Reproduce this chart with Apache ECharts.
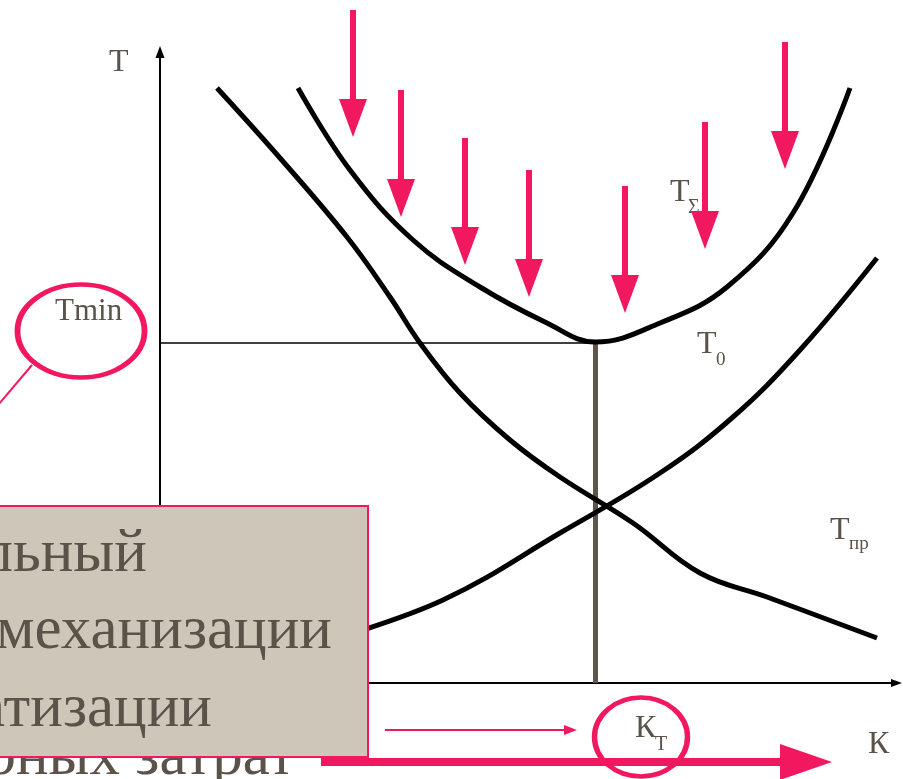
<!DOCTYPE html>
<html>
<head>
<meta charset="utf-8">
<script src="https://cdn.jsdelivr.net/npm/echarts@6/dist/echarts.min.js"></script>
<style>
  html, body { margin: 0; padding: 0; background: #fff; }
  #main { width: 903px; height: 779px; }
</style>
</head>
<body>
<div id="main"></div>
<script>
// координаты в единицах осей (K вправо, T вверх), начало — пересечение осей
const curveSum = [[138, 595], [190, 513], [253, 443], [320, 396], [387, 360], [435, 341],
  [500, 360], [567, 396], [633, 470], [690, 595]]
const curveDown = [[57, 595], [120, 525], [187, 446], [230, 386], [260, 340], [300, 290],
  [350, 243], [400, 206], [473, 160], [540, 110], [607, 86], [717, 45]]
const curveUp = [[170, 43], [283, 83], [400, 150], [500, 210], [573, 266], [640, 333], [717, 425]]

const tMin = 340
const kOpt = 435

// розовые стрелки вниз
const arrowX = [193, 241, 305, 369, 465, 545, 625]
const arrowTop = [673, 593, 545, 513, 497, 561, 641]
const arrowTip = [546, 466, 418, 386, 370, 434, 514]

const PINK = '#f2185f'
const INK = '#5b5249'
const FONT = '"Liberation Serif", "Times New Roman", serif'

const chart = echarts.init(document.getElementById('main'))

// стрелка: линия до центра наконечника, наконечник — треугольник
function arrow(from, tip, len) {
  const dx = tip[0] - from[0], dy = tip[1] - from[1]
  const d = Math.sqrt(dx * dx + dy * dy)
  return { coords: [from, [tip[0] - dx / d * len / 2, tip[1] - dy / d * len / 2]] }
}

const downArrows = arrowX.map((x, i) => arrow([x, arrowTop[i]], [x, arrowTip[i]], 38))

function curve(data) {
  return {
    type: 'line',
    data: data,
    smooth: 0.4,
    symbol: 'none',
    lineStyle: { color: '#000', width: 5 },
    z: 2,
  }
}

chart.setOption({
  animation: false,
  grid: { left: 0, right: 0, top: 0, bottom: 0 },
  xAxis: { type: 'value', min: -160, max: 743, show: false },
  yAxis: { type: 'value', min: -96, max: 683, show: false },
  series: [
    // оси
    {
      type: 'lines',
      coordinateSystem: 'cartesian2d',
      symbol: ['none', 'triangle'],
      symbolSize: [1, [9, 12]],
      lineStyle: { color: '#000', width: 2, opacity: 1 },
      data: [arrow([0, 0], [0, 637], 12)],
      z: 1,
    },
    {
      type: 'lines',
      coordinateSystem: 'cartesian2d',
      symbol: ['none', 'triangle'],
      symbolSize: [1, [8, 11]],
      lineStyle: { color: '#000', width: 2, opacity: 1 },
      data: [arrow([0, 0], [742, 0], 11)],
      z: 1,
    },
    // Tmin
    {
      type: 'lines',
      coordinateSystem: 'cartesian2d',
      lineStyle: { color: '#000', width: 1.5, opacity: 1 },
      data: [{ coords: [[0, tMin], [kOpt, tMin]] }],
      z: 1,
    },
    {
      type: 'lines',
      coordinateSystem: 'cartesian2d',
      lineStyle: { color: '#5e564d', width: 5, opacity: 1 },
      data: [{ coords: [[kOpt, 0], [kOpt, tMin]] }],
      z: 2,
    },
    curve(curveSum),
    curve(curveDown),
    curve(curveUp),
    {
      type: 'lines',
      coordinateSystem: 'cartesian2d',
      symbol: ['none', 'triangle'],
      symbolSize: [1, [28, 38]],
      lineStyle: { color: PINK, width: 6, opacity: 1 },
      data: downArrows,
      z: 4,
    },
    {
      type: 'lines',
      coordinateSystem: 'cartesian2d',
      symbol: ['none', 'triangle'],
      symbolSize: [1, [36, 52]],
      lineStyle: { color: PINK, width: 8, opacity: 1 },
      data: [arrow([161, -79], [672, -79], 52)],
      z: 4,
    },
    {
      type: 'lines',
      coordinateSystem: 'cartesian2d',
      symbol: ['none', 'triangle'],
      symbolSize: [1, [10, 13]],
      lineStyle: { color: PINK, width: 2, opacity: 1 },
      data: [arrow([225, -47], [417, -47], 13)],
      z: 4,
    },
    {
      type: 'lines',
      coordinateSystem: 'cartesian2d',
      lineStyle: { color: PINK, width: 2, opacity: 1 },
      data: [{ coords: [[-128, 318], [-172, 266]] }],
      z: 4,
    },
    // овалы
    {
      type: 'scatter',
      symbol: 'circle',
      silent: true,
      itemStyle: { color: 'rgba(0,0,0,0)', borderColor: PINK, borderWidth: 5, opacity: 1 },
      data: [
        { value: [-79, 352], symbolSize: [127, 93] },
        { value: [481, -54], symbolSize: [93, 79] },
      ],
      z: 5,
    },
  ],
})

function px(p) {
  return chart.convertToPixel({ gridIndex: 0 }, p)
}

// подписи: текст, K, T, размер, выравнивание, z
const labels = [
  ['T', -51, 620, 32, 'left', 1],
  ['Tmin', -105, 371, 31, 'left', 1],
  ['T', 510, 490, 32, 'left', 1],
  ['Σ', 528, 475, 20, 'left', 1],
  ['T', 537, 338, 32, 'left', 1],
  ['0', 556, 323, 19, 'left', 1],
  ['T', 670, 152, 32, 'left', 1],
  ['пр', 689, 139, 19, 'left', 1],
  ['К', 475, -46, 32, 'left', 6],
  ['Т', 495, -62, 20, 'left', 6],
  ['К', 708, -62, 32, 'left', 6],
  ['суммарных затрат', 135, -75, 61, 'right', 9],
  ['Оптимальный', -13, 128, 61, 'right', 11],
  ['уровень механизации', 172, 51, 61, 'right', 11],
  ['и автоматизации', 52, -27, 61, 'right', 11],
]

const boxA = px([-200, 177])
const boxB = px([208, -74])

const graphic = [{
  type: 'rect',
  z: 10,
  shape: { x: boxA[0], y: boxA[1], width: boxB[0] - boxA[0], height: boxB[1] - boxA[1] },
  style: { fill: '#cec6b9', stroke: PINK, lineWidth: 2 },
}]
labels.forEach(l => {
  const p = px([l[1], l[2]])
  graphic.push({
    type: 'text',
    x: p[0],
    y: p[1],
    z: l[5],
    style: {
      text: l[0],
      font: l[3] + 'px ' + FONT,
      fill: INK,
      align: l[4],
      verticalAlign: 'middle',
    },
  })
})

chart.setOption({ graphic: graphic })
</script>
</body>
</html>
